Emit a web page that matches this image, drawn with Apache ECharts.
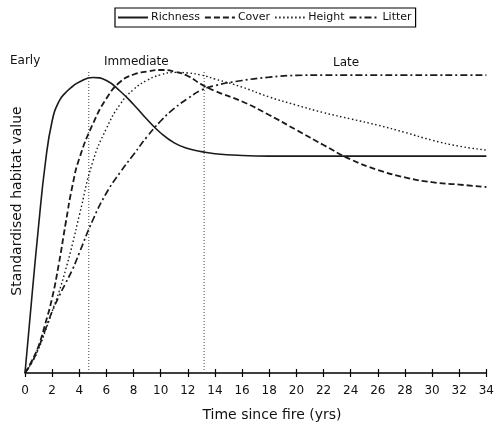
<!DOCTYPE html>
<html>
<head>
<meta charset="utf-8">
<script src="https://cdn.jsdelivr.net/npm/echarts@6/dist/echarts.min.js"></script>
<style>html,body{margin:0;padding:0;background:#fff}#c{width:497px;height:427px}</style>
</head>
<body>
<div id="c"></div>
<script>
var years    = [0, 0.5, 1, 1.5, 2, 2.5, 3, 3.5, 4, 5, 6, 7, 8, 9, 10, 11, 12, 13, 14, 16, 18, 20, 22, 24, 26, 28, 30, 32, 34];
var richness = [0, 0.25, 0.49, 0.70, 0.84, 0.905, 0.935, 0.955, 0.97, 0.985, 0.975, 0.94, 0.895, 0.845, 0.80, 0.767, 0.748, 0.738, 0.731, 0.725, 0.723, 0.723, 0.723, 0.723, 0.723, 0.723, 0.723, 0.723, 0.723];
var cover    = [0, 0.04, 0.09, 0.165, 0.25, 0.365, 0.50, 0.625, 0.715, 0.83, 0.915, 0.97, 0.995, 1.005, 1.01, 1.005, 0.99, 0.962, 0.94, 0.905, 0.86, 0.81, 0.76, 0.712, 0.677, 0.652, 0.636, 0.628, 0.62];
var height   = [0, 0.035, 0.08, 0.14, 0.205, 0.27, 0.345, 0.43, 0.525, 0.705, 0.815, 0.895, 0.945, 0.976, 0.994, 1.002, 1.0, 0.993, 0.98, 0.953, 0.92, 0.893, 0.868, 0.847, 0.826, 0.802, 0.776, 0.756, 0.743];
var litter   = [0, 0.035, 0.085, 0.145, 0.205, 0.255, 0.30, 0.345, 0.40, 0.51, 0.60, 0.668, 0.728, 0.788, 0.84, 0.882, 0.915, 0.943, 0.958, 0.975, 0.986, 0.992, 0.993, 0.993, 0.993, 0.993, 0.993, 0.993, 0.993];
var phaseBounds = [4.7, 13.2];
var phaseTop = 1.01;
var seriesNames = ['Richness', 'Cover', 'Height', 'Litter'];
var xTicks = {min: 0, max: 34, interval: 2};

function pairs(ys) { return years.map(function (t, i) { return [t, ys[i]]; }); }

var FONT = 'DejaVu Sans';
var INK = '#1a1a1a';
var styles = [
  {type: 'solid', width: 1.6},
  {type: [6, 3], width: 1.8},
  {type: [1.5, 2.5], width: 1.4},
  {type: [7, 3, 2, 3], width: 1.7}
];
var dataSets = [richness, cover, height, litter];

var series = seriesNames.map(function (n, i) {
  return {
    name: n, type: 'line', data: pairs(dataSets[i]), symbol: 'none',
    smooth: 0.5, clip: false,
    lineStyle: {color: INK, type: styles[i].type, width: styles[i].width},
    itemStyle: {color: INK}
  };
});
phaseBounds.forEach(function (b) {
  series.push({
    type: 'line', data: [[b, 0], [b, phaseTop]], symbol: 'none', silent: true,
    lineStyle: {color: '#444', type: [1, 2], width: 1}
  });
});

var chart = echarts.init(document.getElementById('c'), null, {renderer: 'canvas'});
chart.setOption({
  animation: false,
  backgroundColor: '#fff',
  grid: {left: 25, right: 8, top: 43, bottom: 54},
  legend: {
    data: seriesNames, left: 115, top: 8,
    borderColor: '#000', borderWidth: 1.2, padding: [4, 4, 4, 2],
    itemWidth: 30, itemHeight: 10, itemGap: 4,
    itemStyle: {opacity: 0},
    textStyle: {fontFamily: FONT, fontSize: 11, color: '#111', padding: [0, 0, 0, -2]}
  },
  xAxis: [{
    type: 'value', min: xTicks.min, max: xTicks.max, interval: xTicks.interval,
    axisLine: {lineStyle: {color: '#000', width: 1.5}},
    axisTick: {show: true, inside: false, length: 4, lineStyle: {color: '#000', width: 1.2}},
    axisLabel: {fontFamily: FONT, fontSize: 12, color: '#111', margin: 12, showMaxLabel: true},
    splitLine: {show: false}
  }, {
    type: 'value', position: 'bottom', min: xTicks.min, max: xTicks.max, interval: xTicks.interval,
    axisLine: {show: false},
    axisTick: {show: true, inside: true, length: 4, lineStyle: {color: '#000', width: 1.2}},
    axisLabel: {show: false}, splitLine: {show: false}
  }],
  yAxis: {
    type: 'value', min: 0, max: 1.1,
    axisLine: {show: false}, axisTick: {show: false}, axisLabel: {show: false}, splitLine: {show: false}
  },
  graphic: [
    {type: 'text', left: 10, top: 55, style: {text: 'Early', font: '12px "DejaVu Sans"', fill: '#111'}},
    {type: 'text', left: 104, top: 56, style: {text: 'Immediate', font: '12px "DejaVu Sans"', fill: '#111'}},
    {type: 'text', left: 333, top: 57, style: {text: 'Late', font: '12px "DejaVu Sans"', fill: '#111'}},
    {type: 'text', x: 272, y: 415, style: {text: 'Time since fire (yrs)', font: '14px "DejaVu Sans"', fill: '#111', align: 'center', verticalAlign: 'middle'}},
    {type: 'text', x: 17, y: 201, rotation: Math.PI / 2, style: {text: 'Standardised habitat value', font: '14px "DejaVu Sans"', fill: '#111', align: 'center', verticalAlign: 'middle'}}
  ],
  series: series
});
</script>
</body>
</html>
